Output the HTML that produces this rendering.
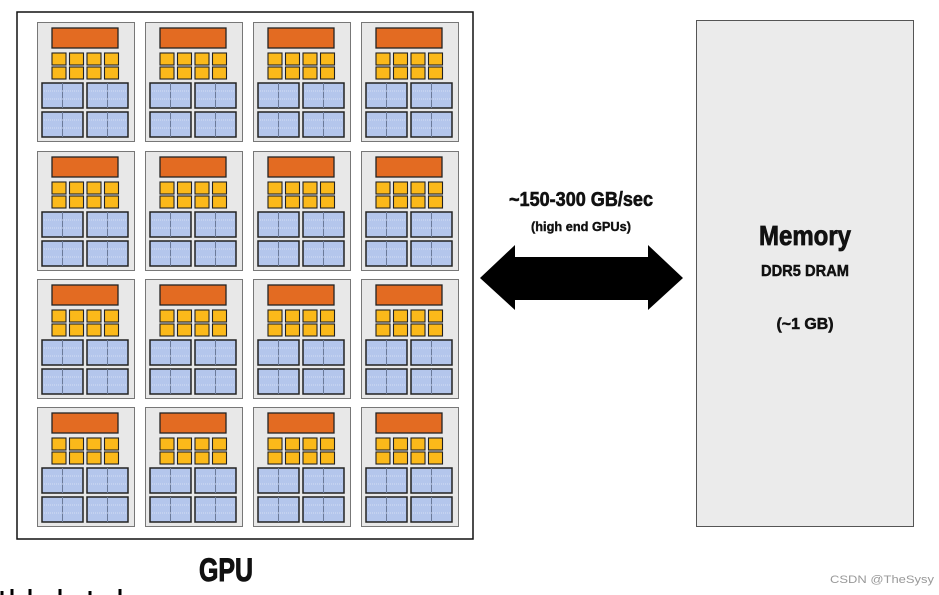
<!DOCTYPE html>
<html><head><meta charset="utf-8"><style>html,body{margin:0;padding:0;background:#fff}svg{display:block}</style></head>
<body>
<svg width="939" height="595" viewBox="0 0 939 595" xmlns="http://www.w3.org/2000/svg">
<defs>
<g id="blk">
<rect x="0" y="0" width="41" height="25" fill="#b4c6ec" stroke="#222" stroke-width="1.5"/>
<line x1="20.5" y1="0" x2="20.5" y2="25" stroke="#6b7a99" stroke-width="1"/>
<line x1="2" y1="8" x2="39" y2="8" stroke="#d4def4" stroke-width="1" stroke-dasharray="1 1"/>
<line x1="2" y1="16" x2="39" y2="16" stroke="#d4def4" stroke-width="1" stroke-dasharray="1 1"/>
</g>
<g id="sq"><rect width="14" height="12" fill="#fbb91a" stroke="#222" stroke-width="1.1"/></g>
<g id="core">
<rect x="0.5" y="0.5" width="97" height="119" fill="#e8e8e8" stroke="#777" stroke-width="1"/>
<rect x="15" y="6" width="66" height="20" fill="#e36b22" stroke="#222" stroke-width="1.3"/>
<use href="#sq" x="15" y="31"/><use href="#sq" x="32.5" y="31"/><use href="#sq" x="50" y="31"/><use href="#sq" x="67.5" y="31"/>
<use href="#sq" x="15" y="45"/><use href="#sq" x="32.5" y="45"/><use href="#sq" x="50" y="45"/><use href="#sq" x="67.5" y="45"/>
<use href="#blk" x="5" y="61"/><use href="#blk" x="50" y="61"/>
<use href="#blk" x="5" y="90"/><use href="#blk" x="50" y="90"/>
</g>
</defs>
<rect x="17" y="12" width="456" height="527" fill="#fff" stroke="#111" stroke-width="1.5"/>
<use href="#core" x="37" y="22"/><use href="#core" x="145" y="22"/><use href="#core" x="253" y="22"/><use href="#core" x="361" y="22"/>
<use href="#core" x="37" y="151"/><use href="#core" x="145" y="151"/><use href="#core" x="253" y="151"/><use href="#core" x="361" y="151"/>
<use href="#core" x="37" y="279"/><use href="#core" x="145" y="279"/><use href="#core" x="253" y="279"/><use href="#core" x="361" y="279"/>
<use href="#core" x="37" y="407"/><use href="#core" x="145" y="407"/><use href="#core" x="253" y="407"/><use href="#core" x="361" y="407"/>

<rect x="696.5" y="20.5" width="217" height="506" fill="#ebebeb" stroke="#555" stroke-width="1"/>
<polygon points="480,278 515,245 515,257 648,257 648,245 683,278 648,310 648,300 515,300 515,310" fill="#000"/>

<g font-family="Liberation Sans, sans-serif" font-weight="bold" fill="#111" stroke="#111">
<text x="581" y="206" font-size="20" stroke-width="0.6" text-anchor="middle" textLength="144" lengthAdjust="spacingAndGlyphs">~150-300 GB/sec</text>
<text x="581" y="231" font-size="13" stroke-width="0.4" text-anchor="middle" textLength="100" lengthAdjust="spacingAndGlyphs">(high end GPUs)</text>
<text x="805" y="245" font-size="28" stroke-width="0.8" text-anchor="middle" textLength="92" lengthAdjust="spacingAndGlyphs">Memory</text>
<text x="805" y="276" font-size="16" stroke-width="0.5" text-anchor="middle" textLength="88" lengthAdjust="spacingAndGlyphs">DDR5 DRAM</text>
<text x="805" y="329" font-size="16" stroke-width="0.5" text-anchor="middle" textLength="57" lengthAdjust="spacingAndGlyphs">(~1 GB)</text>
<text x="226" y="581" font-size="32" stroke-width="1" text-anchor="middle" textLength="54" lengthAdjust="spacingAndGlyphs">GPU</text>
</g>
<text x="882" y="583" font-family="Liberation Sans, sans-serif" font-size="11" fill="#999" text-anchor="middle" textLength="104" lengthAdjust="spacingAndGlyphs">CSDN @TheSysy</text>
<path d="M2 595 v-4 M12 595 v-6 M30 595 v-6 M60 595 v-6 M90 595 v-4 M120 595 v-6" stroke="#000" stroke-width="3"/>
</svg>
</body></html>
